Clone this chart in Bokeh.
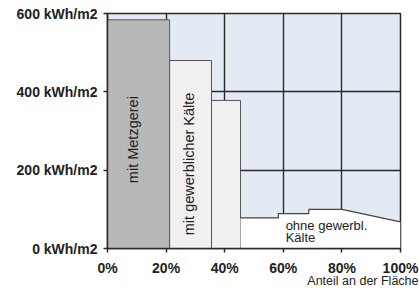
import math
from bokeh.plotting import figure
from bokeh.models import Range1d, FixedTicker, Label, Title
from bokeh.embed import file_html
from bokeh.resources import INLINE

# ---- data ----
x_ticks = [0, 20, 40, 60, 80, 100]
x_tick_labels = ["0%", "20%", "40%", "60%", "80%", "100%"]
y_ticks = [0, 200, 400, 600]
y_tick_labels = ["0 kWh/m2", "200 kWh/m2", "400 kWh/m2", "600 kWh/m2"]

metzgerei_edges = [0.0, 21.2]          # share of area, %
metzgerei_values = [584]               # kWh/m2
kaelte_edges = [21.2, 35.5, 45.4]
kaelte_values = [480, 378]
ohne_edges = [45.4, 58.3, 68.7, 80.0]
ohne_values = [78, 89, 100]
ohne_tail_x = [80.0, 100.0]
ohne_tail_y = [100, 68]

label_metzgerei = "mit Metzgerei"
label_kaelte = "mit gewerblicher Kälte"
label_ohne = ["ohne gewerbl.", "Kälte"]
x_title = "Anteil an der Fläche"

FONT = "Liberation Sans"

p = figure(width=419, height=296, output_backend="svg", toolbar_location=None,
           x_range=Range1d(0, 100), y_range=Range1d(0, 600),
           min_border_left=107, min_border_right=19, min_border_top=13, min_border_bottom=48)

p.background_fill_color = "#e3eaf3"
p.border_fill_color = "white"
p.outline_line_color = "#2a2a2a"
p.outline_line_width = 1.5

p.xgrid.ticker = FixedTicker(ticks=x_ticks)
p.ygrid.ticker = FixedTicker(ticks=y_ticks)
for g in (p.xgrid, p.ygrid):
    g.grid_line_color = "#2a2a2a"
    g.grid_line_width = 1.4

# bars
p.quad(left=metzgerei_edges[:-1], right=metzgerei_edges[1:], bottom=0, top=metzgerei_values,
       fill_color="#b8b8b8", line_color="#555555", line_width=1)
p.quad(left=kaelte_edges[:-1], right=kaelte_edges[1:], bottom=0, top=kaelte_values,
       fill_color="#f0f0f0", line_color="#555555", line_width=1)

# white region without commercial cooling
px = [ohne_edges[0]]
py = [0]
for i, v in enumerate(ohne_values):
    px += [ohne_edges[i], ohne_edges[i + 1]]
    py += [v, v]
px += [ohne_tail_x[1], ohne_tail_x[1]]
py += [ohne_tail_y[1], 0]
p.patch(px, py, fill_color="white", line_color=None)
p.line(px[1:-1], py[1:-1], line_color="#444444", line_width=1.2)

# axes
for ax in (p.xaxis, p.yaxis):
    ax.axis_line_color = "#2a2a2a"
    ax.axis_line_width = 1.5
    ax.major_tick_line_color = "#2a2a2a"
    ax.major_tick_line_width = 1.5
    ax.minor_tick_line_color = None
    ax.major_tick_in = 0
    ax.major_tick_out = 4
    ax.major_label_text_font = FONT
    ax.major_label_text_font_style = "bold"
    ax.major_label_text_font_size = "14px"
    ax.major_label_text_color = "#222222"

p.xaxis.ticker = FixedTicker(ticks=x_ticks)
p.xaxis.major_label_overrides = {t: l for t, l in zip(x_ticks, x_tick_labels)}
p.xaxis.major_label_standoff = 7
p.yaxis.ticker = FixedTicker(ticks=y_ticks)
p.yaxis.major_label_overrides = {t: l for t, l in zip(y_ticks, y_tick_labels)}
p.yaxis.major_label_standoff = 6

# x title, right aligned below the axis
p.add_layout(Title(text=x_title, align="right", offset=-18, standoff=-13,
                   text_font=FONT, text_font_style="normal", text_font_size="12.5px",
                   text_color="#222222"), "below")

# texts inside the chart
p.add_layout(Label(x=8.8, y=278, text=label_metzgerei, angle=math.pi / 2,
                   text_align="center", text_baseline="middle", text_font=FONT,
                   text_font_size="14.5px", text_color="#222222"))
p.add_layout(Label(x=27.9, y=216, text=label_kaelte, angle=math.pi / 2,
                   text_align="center", text_baseline="middle", text_font=FONT,
                   text_font_size="14.5px", text_color="#222222"))
p.add_layout(Label(x=60.8, y=60, text=label_ohne[0], text_align="left", text_baseline="middle",
                   text_font=FONT, text_font_size="13px", text_color="#222222"))
p.add_layout(Label(x=60.8, y=28, text=label_ohne[1], text_align="left", text_baseline="middle",
                   text_font=FONT, text_font_size="13px", text_color="#222222"))

open("out.html", "w").write(file_html(p, INLINE))
